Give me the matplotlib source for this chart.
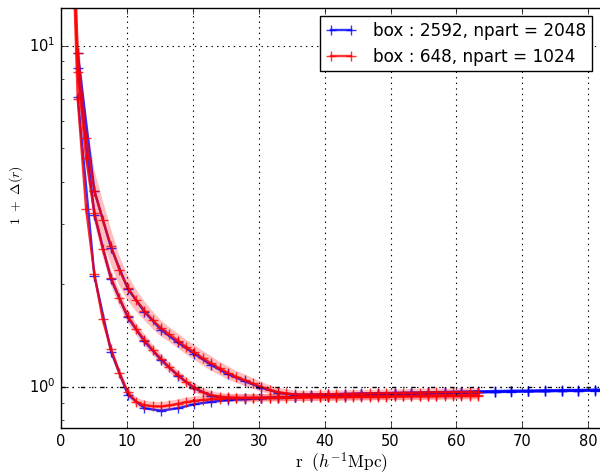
import matplotlib
matplotlib.use('Agg')
import numpy as np
import matplotlib.pyplot as plt

plt.style.use('classic')
plt.rcParams['mathtext.fontset'] = 'cm'
plt.rcParams['savefig.facecolor'] = 'white'

# bin centres (h^-1 Mpc)
r_red = [1.27, 2.53, 3.80, 5.06, 6.33, 7.59, 8.86, 10.13, 11.39, 12.66,
         13.92, 15.19, 16.45, 17.72, 18.98, 20.25, 21.52, 22.78, 24.05, 25.31,
         26.58, 27.84, 29.11, 30.38, 31.64, 32.91, 34.17, 35.44, 36.70, 37.97,
         39.23, 40.50, 41.77, 43.03, 44.30, 45.56, 46.83, 48.09, 49.36, 50.63,
         51.89, 53.16, 54.42, 55.69, 56.95, 58.22, 59.48, 60.75, 62.02, 63.28]
r_blue = [2.53, 5.06, 7.59, 10.13, 12.66, 15.19, 17.72, 20.25, 22.78, 25.31,
          27.84, 30.38, 32.91, 35.44, 37.97, 40.50, 43.03, 45.56, 48.09, 50.63,
          53.16, 55.69, 58.22, 60.75, 63.28, 65.81, 68.34, 70.88, 73.41, 75.94,
          78.47, 81.00, 83.53]

# box 648, npart 1024 : three profiles
red_a = [40.0, 6.99, 3.33, 2.14, 1.58, 1.29, 1.10, 0.965, 0.905, 0.885,
         0.878, 0.877, 0.883, 0.893, 0.903, 0.911, 0.917, 0.921, 0.925, 0.927,
         0.928, 0.929, 0.929, 0.930, 0.930, 0.931, 0.931, 0.932, 0.932, 0.933,
         0.933, 0.934, 0.934, 0.935, 0.935, 0.936, 0.936, 0.937, 0.937, 0.938,
         0.938, 0.939, 0.939, 0.940, 0.940, 0.941, 0.941, 0.942, 0.942, 0.943]
red_b = [45.0, 8.35, 4.70, 3.23, 2.54, 2.09, 1.82, 1.615, 1.48, 1.374,
         1.285, 1.208, 1.142, 1.085, 1.036, 0.996, 0.966, 0.947, 0.937, 0.932,
         0.930, 0.929, 0.929, 0.930, 0.931, 0.932, 0.932, 0.933, 0.934, 0.934,
         0.935, 0.936, 0.936, 0.937, 0.938, 0.938, 0.939, 0.940, 0.940, 0.941,
         0.942, 0.942, 0.943, 0.944, 0.944, 0.945, 0.946, 0.946, 0.947, 0.948]
red_c = [50.0, 9.55, 5.37, 3.76, 3.09, 2.59, 2.20, 1.955, 1.80, 1.674,
         1.572, 1.486, 1.425, 1.368, 1.31, 1.264, 1.215, 1.173, 1.135, 1.101,
         1.072, 1.048, 1.024, 1.002, 0.982, 0.967, 0.957, 0.952, 0.950, 0.950,
         0.951, 0.952, 0.953, 0.954, 0.955, 0.956, 0.957, 0.958, 0.959, 0.960,
         0.961, 0.962, 0.963, 0.964, 0.965, 0.965, 0.966, 0.967, 0.967, 0.968]

# relative errors of the red profiles
err_a = [0.04, 0.04, 0.04, 0.04, 0.04, 0.035, 0.035, 0.03, 0.03, 0.03,
         0.03, 0.03, 0.03, 0.03, 0.03, 0.03, 0.028, 0.027, 0.026, 0.025,
         0.025, 0.025, 0.025, 0.025, 0.025, 0.025, 0.025, 0.025, 0.025, 0.025,
         0.025, 0.025, 0.025, 0.025, 0.025, 0.025, 0.025, 0.025, 0.025, 0.025,
         0.025, 0.025, 0.025, 0.025, 0.025, 0.025, 0.025, 0.025, 0.025, 0.025]
err_b = [0.06, 0.06, 0.06, 0.06, 0.05, 0.05, 0.05, 0.045, 0.04, 0.04,
         0.035, 0.035, 0.035, 0.03, 0.03, 0.03, 0.028, 0.027, 0.026, 0.025,
         0.025, 0.025, 0.025, 0.025, 0.025, 0.025, 0.025, 0.025, 0.025, 0.025,
         0.025, 0.025, 0.025, 0.025, 0.025, 0.025, 0.025, 0.025, 0.025, 0.025,
         0.025, 0.025, 0.025, 0.025, 0.025, 0.025, 0.025, 0.025, 0.025, 0.025]
err_c = [0.15, 0.15, 0.15, 0.15, 0.14, 0.12, 0.10, 0.085, 0.075, 0.065,
         0.06, 0.055, 0.05, 0.05, 0.05, 0.05, 0.05, 0.05, 0.045, 0.045,
         0.04, 0.04, 0.035, 0.035, 0.03, 0.03, 0.028, 0.026, 0.025, 0.025,
         0.025, 0.025, 0.025, 0.025, 0.025, 0.025, 0.025, 0.025, 0.025, 0.025,
         0.025, 0.025, 0.025, 0.025, 0.025, 0.025, 0.025, 0.025, 0.025, 0.025]

# box 2592, npart 2048 : three profiles
blue_a = [7.1, 2.12, 1.27, 0.95, 0.866, 0.852, 0.866, 0.89, 0.905, 0.915,
          0.921, 0.926, 0.930, 0.934, 0.938, 0.941, 0.944, 0.947, 0.950, 0.953,
          0.955, 0.958, 0.960, 0.962, 0.964, 0.966, 0.968, 0.970, 0.971, 0.973,
          0.974, 0.976, 0.977]
blue_b = [8.62, 3.20, 2.07, 1.60, 1.36, 1.20, 1.08, 0.99, 0.942, 0.928,
          0.927, 0.929, 0.932, 0.936, 0.940, 0.943, 0.946, 0.949, 0.952, 0.955,
          0.957, 0.960, 0.962, 0.964, 0.966, 0.968, 0.970, 0.972, 0.973, 0.975,
          0.976, 0.978, 0.979]
blue_c = [9.55, 3.76, 2.56, 1.94, 1.66, 1.47, 1.35, 1.25, 1.16, 1.09,
          1.04, 0.995, 0.962, 0.950, 0.950, 0.952, 0.954, 0.957, 0.959, 0.961,
          0.963, 0.965, 0.967, 0.969, 0.971, 0.973, 0.975, 0.976, 0.978, 0.979,
          0.980, 0.982, 0.983]

labels = ['box : 2592, npart = 2048', 'box : 648, npart = 1024']

fig = plt.figure(figsize=(6, 4.75), dpi=100, facecolor='white')
ax = fig.add_axes([0.1017, 0.0989, 0.9337, 0.8842])

for i, y in enumerate([blue_a, blue_b, blue_c]):
    ax.plot(r_blue, y, color='b', marker='+', ms=7, mew=1, lw=1.7, alpha=0.8,
            label=labels[0] if i == 0 else None)

rr = np.array(r_red)
for y, e in zip([red_a, red_b, red_c], [err_a, err_b, err_c]):
    y = np.array(y)
    e = np.array(e)
    ax.fill_between(rr, y * (1 - e), y * (1 + e), color='r', alpha=0.25, lw=0)
for i, y in enumerate([red_a, red_b, red_c]):
    ax.plot(r_red, y, color='r', marker='+', ms=7, mew=1, lw=1.7, alpha=0.8,
            label=labels[1] if i == 0 else None)

ax.axhline(1.0, color='k', ls='-.', lw=1)

ax.set_yscale('log')
ax.set_xlim(0, 85)
ax.set_ylim(0.758, 12.9)
ax.grid(True, which='major', color='k', ls=':', lw=0.8)
ax.tick_params(labelsize=10.5)

ax.set_xlabel(r'$\mathrm{r}\ \ (h^{-1}\mathrm{Mpc})$', fontsize=12.5)
ax.set_ylabel(r'$1\ +\ \Delta(r)$', fontsize=10)
ax.xaxis.set_label_coords(0.5, -0.053, transform=ax.transAxes)
ax.xaxis.label.set_va('top')
ax.yaxis.set_label_coords(-0.080, 0.555, transform=ax.transAxes)
ax.yaxis.label.set_va('center')

ax.legend(loc='upper right', bbox_to_anchor=(592 / 600, 1 - 16 / 475),
          bbox_transform=fig.transFigure, borderaxespad=0, numpoints=2,
          fontsize=12.2, fancybox=False, handlelength=1.8, handletextpad=1.0,
          borderpad=0.35, labelspacing=0.45)

fig.savefig('out.png', dpi=100)
